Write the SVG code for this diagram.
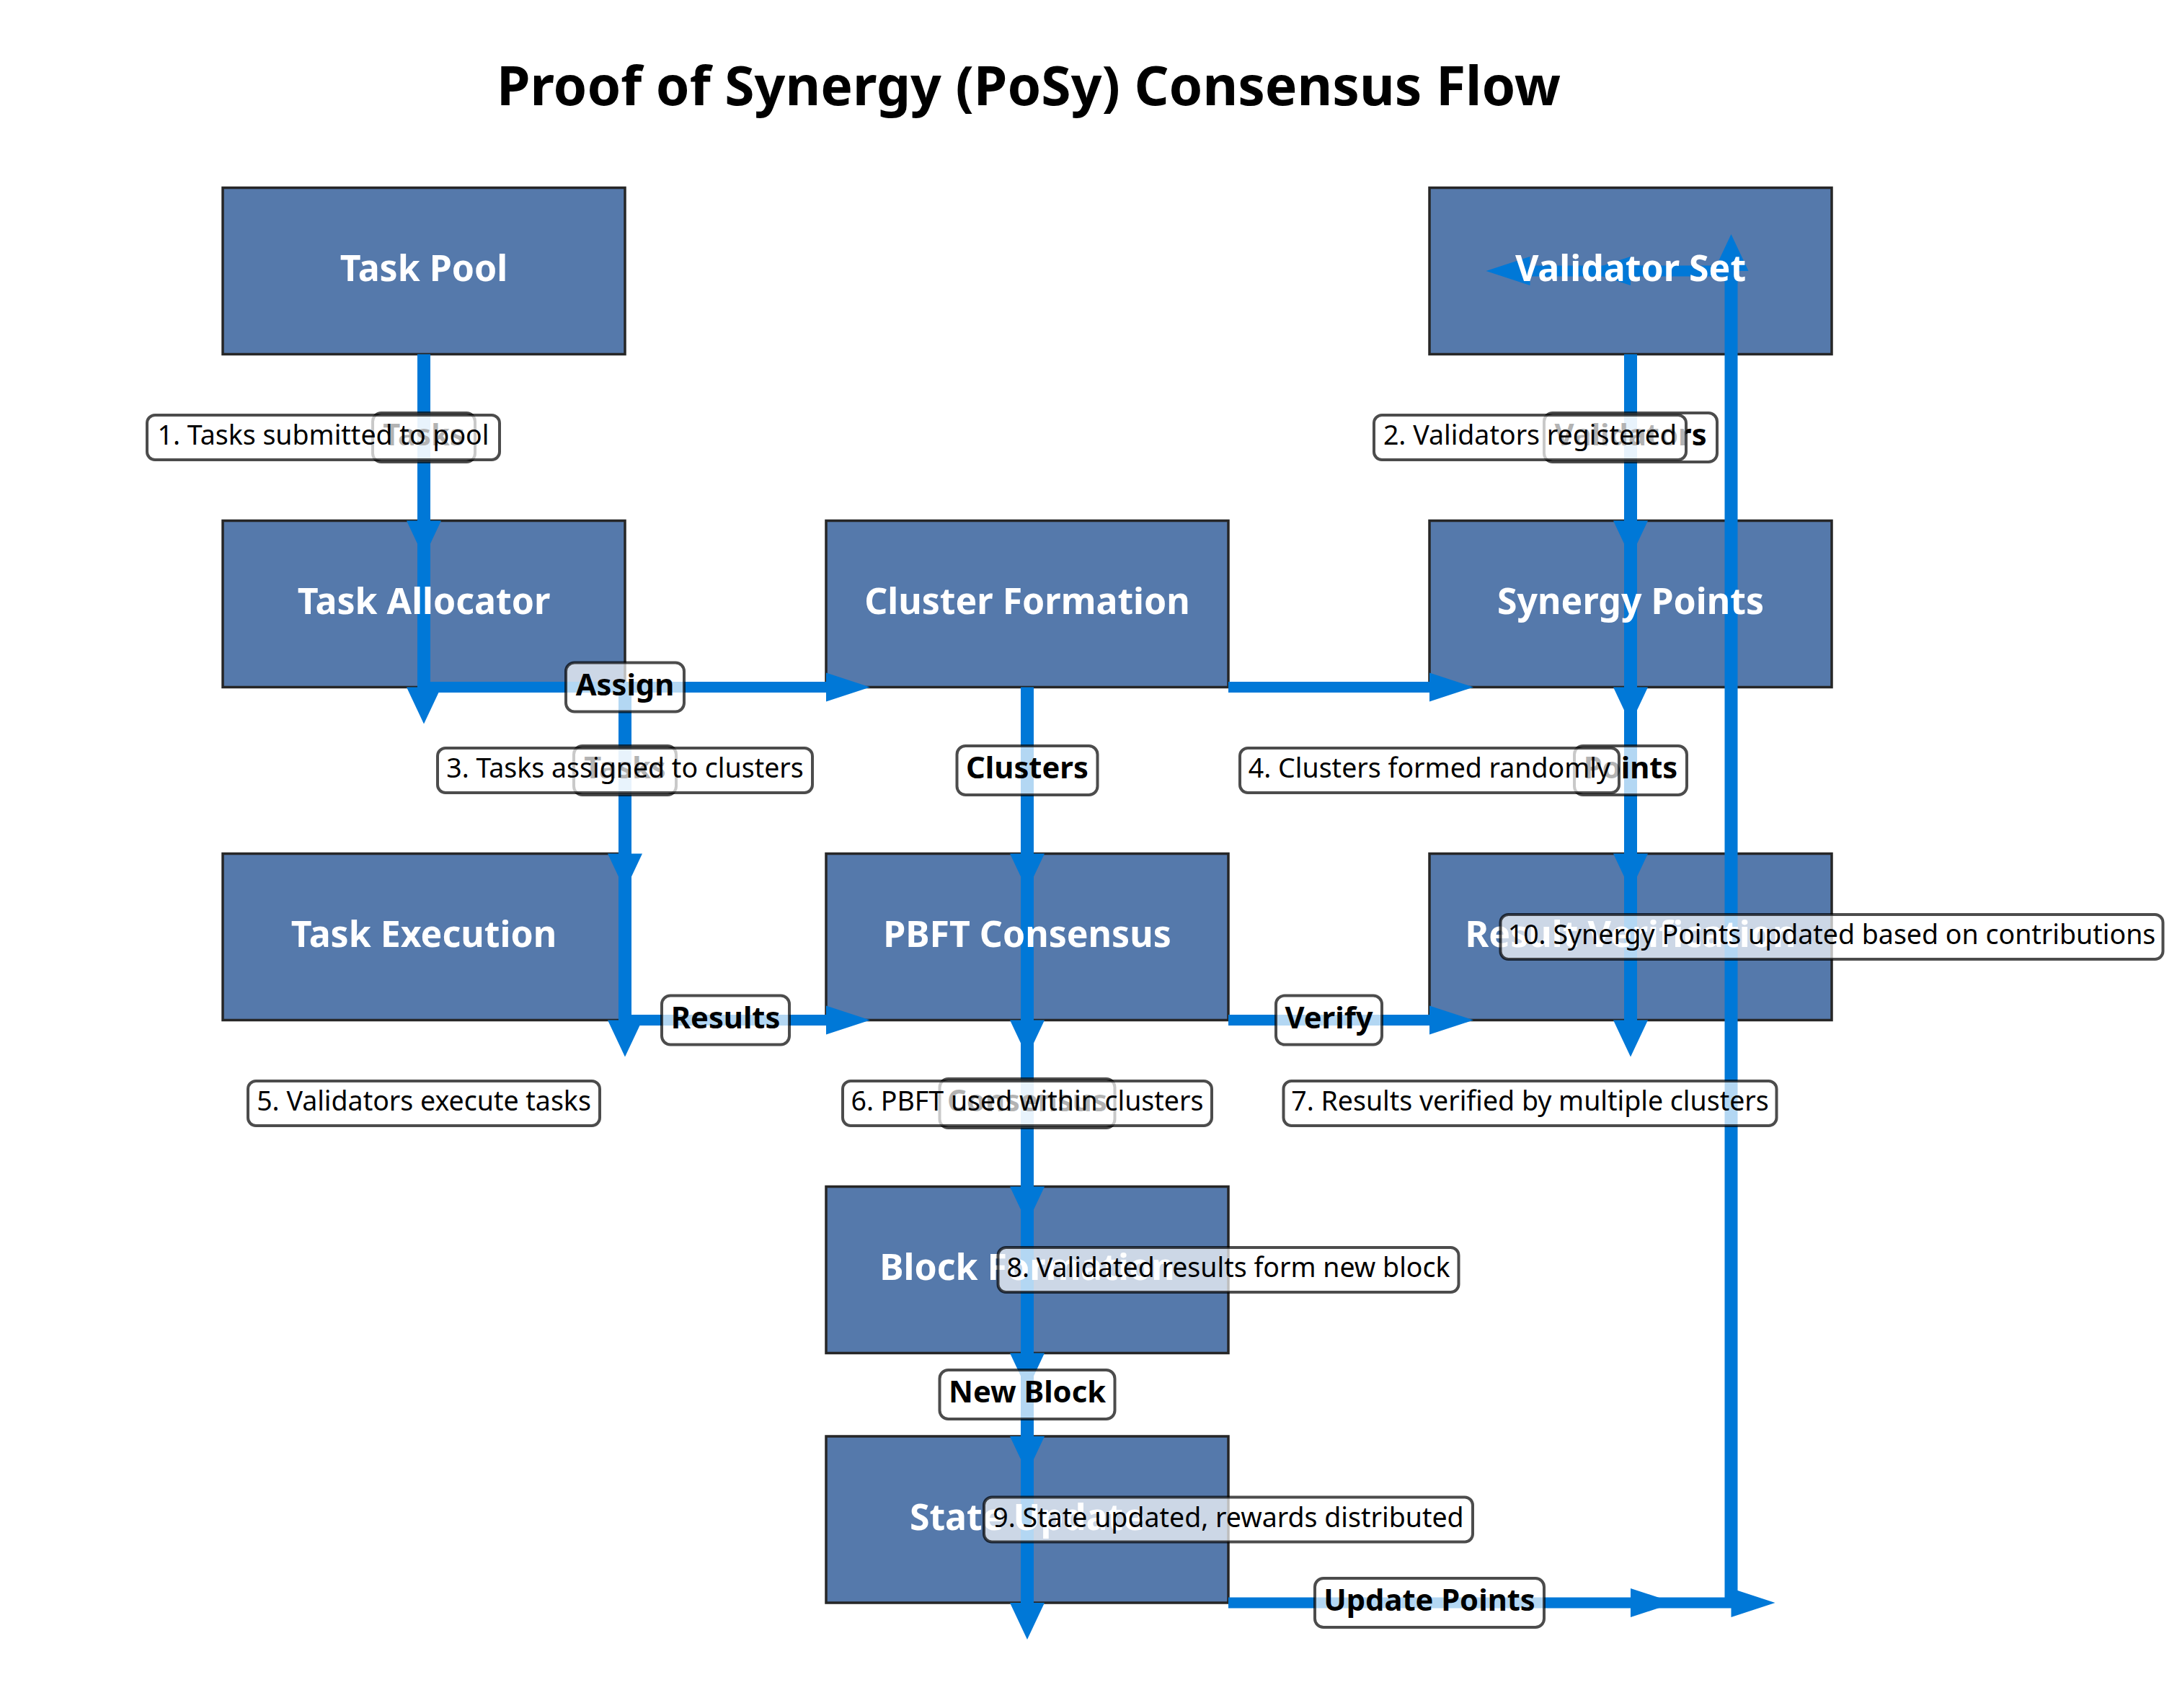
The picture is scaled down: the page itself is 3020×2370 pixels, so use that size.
<svg xmlns="http://www.w3.org/2000/svg" width="3020" height="2370" viewBox="0 0 3020 2370">
<style>
.node rect{fill:#5579ab;stroke:#262626;stroke-width:3.5}
.nlabel{font-family:"Noto Sans","Open Sans",sans-serif;font-weight:bold;font-size:50px;fill:#fff;text-anchor:middle}
.conn path{fill:#0078d7;stroke:none}
.lbl rect{fill:#fff;fill-opacity:.7;stroke:#000;stroke-opacity:.7;stroke-width:4}
.elabel text{font-family:"Noto Sans","Open Sans",sans-serif;font-weight:bold;font-size:41.7px;fill:#000;text-anchor:middle}
.step text{font-family:"Noto Sans","Open Sans",sans-serif;font-size:37.5px;fill:#000;text-anchor:middle}
.title{font-family:"Noto Sans","Open Sans",sans-serif;font-weight:bold;font-size:75px;fill:#000;text-anchor:middle}
</style>
<rect width="3020" height="2370" fill="#fff"/>
<text class="title" x="1427" y="146">Proof of Synergy (PoSy) Consensus Flow</text>

<g id="nodes">
<g id="node-task-pool" class="node"><rect x="309" y="260.5" width="558" height="231"/></g>
<g id="node-validator-set" class="node"><rect x="1983" y="260.5" width="558" height="231"/></g>
<g id="node-task-allocator" class="node"><rect x="309" y="722.5" width="558" height="231"/></g>
<g id="node-cluster-formation" class="node"><rect x="1146" y="722.5" width="558" height="231"/></g>
<g id="node-synergy-points" class="node"><rect x="1983" y="722.5" width="558" height="231"/></g>
<g id="node-task-execution" class="node"><rect x="309" y="1184.5" width="558" height="231"/></g>
<g id="node-pbft-consensus" class="node"><rect x="1146" y="1184.5" width="558" height="231"/></g>
<g id="node-result-verification" class="node"><rect x="1983" y="1184.5" width="558" height="231"/></g>
<g id="node-block-formation" class="node"><rect x="1146" y="1646.5" width="558" height="231"/></g>
<g id="node-state-update" class="node"><rect x="1146" y="1993" width="558" height="231"/></g>
</g>

<g id="connectors" class="conn">
<path d="M579,491.5 h18 V722.5 h15 L588,773.5 L564,722.5 h15 Z"/>
<path d="M579,722.5 h18 V953.5 h15 L588,1004.5 L564,953.5 h15 Z"/>
<path d="M858,953.5 h18 V1184.5 h15 L867,1235.5 L843,1184.5 h15 Z"/>
<path d="M858,1184.5 h18 V1415.5 h15 L867,1466.5 L843,1415.5 h15 Z"/>
<path d="M1416,953.5 h18 V1184.5 h15 L1425,1235.5 L1401,1184.5 h15 Z"/>
<path d="M1416,1184.5 h18 V1415.5 h15 L1425,1466.5 L1401,1415.5 h15 Z"/>
<path d="M1416,1415.5 h18 V1646.5 h15 L1425,1697.5 L1401,1646.5 h15 Z"/>
<path d="M1416,1646.5 h18 V1877.5 h15 L1425,1928.5 L1401,1877.5 h15 Z"/>
<path d="M1416,1877.5 h18 V1993 h15 L1425,2044 L1401,1993 h15 Z"/>
<path d="M1416,1993 h18 V2224 h15 L1425,2275 L1401,2224 h15 Z"/>
<path d="M2253,491.5 h18 V722.5 h15 L2262,773.5 L2238,722.5 h15 Z"/>
<path d="M2253,722.5 h18 V953.5 h15 L2262,1004.5 L2238,953.5 h15 Z"/>
<path d="M2253,953.5 h18 V1184.5 h15 L2262,1235.5 L2238,1184.5 h15 Z"/>
<path d="M2253,1184.5 h18 V1415.5 h15 L2262,1466.5 L2238,1415.5 h15 Z"/>
<path d="M2392.5,2224 h18 V376 h15 L2401.5,325 L2377.5,376 h15 Z"/>
<path d="M588,946 H1146 v-12.5 L1207,953.5 L1146,973.5 v-12.5 H588 Z"/>
<path d="M1704,946 H1983 v-12.5 L2044,953.5 L1983,973.5 v-12.5 H1704 Z"/>
<path d="M867,1408 H1146 v-12.5 L1207,1415.5 L1146,1435.5 v-12.5 H867 Z"/>
<path d="M1704,1408 H1983 v-12.5 L2044,1415.5 L1983,1435.5 v-12.5 H1704 Z"/>
<path d="M1704,2216.5 H2262 v-12.5 L2323,2224 L2262,2244 v-12.5 H1704 Z"/>
<path d="M2262,2216.5 H2401.5 v-12.5 L2462.5,2224 L2401.5,2244 v-12.5 H2262 Z"/>
<path d="M2401.5,368.5 H2262 v-12.5 L2201,376 L2262,396 v-12.5 H2401.5 Z"/>
<path d="M2262,368.5 H2122.5 v-12.5 L2061.5,376 L2122.5,396 v-12.5 H2262 Z"/>
</g>

<g id="node-labels">
<text id="label-task-pool" class="nlabel" x="588" y="390">Task Pool</text>
<text id="label-validator-set" class="nlabel" x="2262" y="390">Validator Set</text>
<text id="label-task-allocator" class="nlabel" x="588" y="852">Task Allocator</text>
<text id="label-cluster-formation" class="nlabel" x="1425" y="852">Cluster Formation</text>
<text id="label-synergy-points" class="nlabel" x="2262" y="852">Synergy Points</text>
<text id="label-task-execution" class="nlabel" x="588" y="1314">Task Execution</text>
<text id="label-pbft-consensus" class="nlabel" x="1425" y="1314">PBFT Consensus</text>
<text id="label-result-verification" class="nlabel" x="2262" y="1314">Result Verification</text>
<text id="label-block-formation" class="nlabel" x="1425" y="1776">Block Formation</text>
<text id="label-state-update" class="nlabel" x="1425" y="2122.5">State Update</text>
</g>

<g id="edge-labels">
<g class="lbl elabel"><rect x="517" y="573" width="142" height="68" rx="12"/><text x="588" y="618">Tasks</text></g>
<g class="lbl elabel"><rect x="2142" y="573" width="240" height="68" rx="12"/><text x="2262" y="618">Validators</text></g>
<g class="lbl elabel"><rect x="785" y="919.5" width="164" height="68" rx="12"/><text x="867" y="964.5">Assign</text></g>
<g class="lbl elabel"><rect x="796" y="1035" width="142" height="68" rx="12"/><text x="867" y="1080">Tasks</text></g>
<g class="lbl elabel"><rect x="1327.5" y="1035" width="195" height="68" rx="12"/><text x="1425" y="1080">Clusters</text></g>
<g class="lbl elabel"><rect x="2184" y="1035" width="156" height="68" rx="12"/><text x="2262" y="1080">Points</text></g>
<g class="lbl elabel"><rect x="918" y="1381.5" width="177" height="68" rx="12"/><text x="1006.5" y="1426.5">Results</text></g>
<g class="lbl elabel"><rect x="1770" y="1381.5" width="147" height="68" rx="12"/><text x="1843.5" y="1426.5">Verify</text></g>
<g class="lbl elabel"><rect x="1303.5" y="1497" width="243" height="68" rx="12"/><text x="1425" y="1542">Consensus</text></g>
<g class="lbl elabel"><rect x="1303.5" y="1901" width="243" height="68" rx="12"/><text x="1425" y="1946">New Block</text></g>
<g class="lbl elabel"><rect x="1824" y="2190" width="318" height="68" rx="12"/><text x="1983" y="2235">Update Points</text></g>
</g>

<g id="step-notes">
<g class="lbl step"><rect x="204" y="576" width="489" height="62" rx="11"/><text x="448.5" y="617">1. Tasks submitted to pool</text></g>
<g class="lbl step"><rect x="1906" y="576" width="433" height="62" rx="11"/><text x="2122.5" y="617">2. Validators registered</text></g>
<g class="lbl step"><rect x="607" y="1038" width="520" height="62" rx="11"/><text x="867" y="1079">3. Tasks assigned to clusters</text></g>
<g class="lbl step"><rect x="1720" y="1038" width="526" height="62" rx="11"/><text x="1983" y="1079">4. Clusters formed randomly</text></g>
<g class="lbl step"><rect x="344" y="1500" width="488" height="62" rx="11"/><text x="588" y="1541">5. Validators execute tasks</text></g>
<g class="lbl step"><rect x="1169" y="1500" width="512" height="62" rx="11"/><text x="1425" y="1541">6. PBFT used within clusters</text></g>
<g class="lbl step"><rect x="1780.5" y="1500" width="684" height="62" rx="11"/><text x="2122.5" y="1541">7. Results verified by multiple clusters</text></g>
<g class="lbl step"><rect x="1384.5" y="1731" width="639" height="62" rx="11"/><text x="1704" y="1772">8. Validated results form new block</text></g>
<g class="lbl step"><rect x="1365" y="2077.5" width="678" height="62" rx="11"/><text x="1704" y="2118.5">9. State updated, rewards distributed</text></g>
<g class="lbl step"><rect x="2081.5" y="1269" width="919" height="62" rx="11"/><text x="2541" y="1310">10. Synergy Points updated based on contributions</text></g>
</g>
</svg>
